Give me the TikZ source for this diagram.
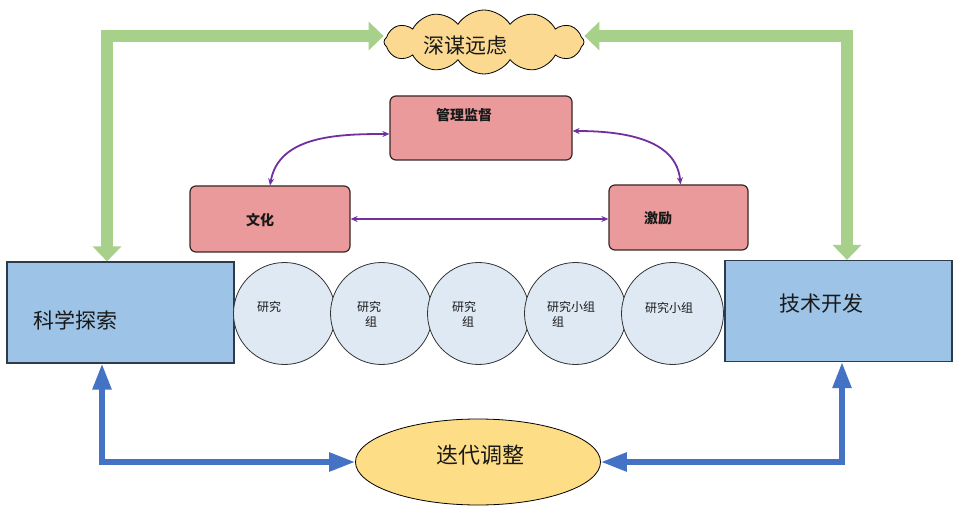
\documentclass[tikz,border=0pt]{standalone}
\usepackage{fontspec}
\setmainfont{Noto Sans CJK SC}
\usetikzlibrary{shapes.symbols,shapes.geometric,arrows.meta}
\definecolor{cloudfill}{HTML}{FBD990}
\definecolor{greenarrow}{HTML}{A7D08B}
\definecolor{pinkfill}{HTML}{EA9A9A}
\definecolor{pinkdraw}{HTML}{3A2626}
\definecolor{purplearrow}{HTML}{7030A0}
\definecolor{bluefill}{HTML}{9DC3E6}
\definecolor{bluedraw}{HTML}{2E3B4A}
\definecolor{circfill}{HTML}{DEE9F4}
\definecolor{ellfill}{HTML}{FDDE86}
\definecolor{bluearrow}{HTML}{4472C4}
\tikzset{
  cloudbox/.style={cloud, cloud puffs=12, cloud puff arc=115, aspect=3.1, draw=black, line width=0.8pt, fill=cloudfill, minimum width=200pt, minimum height=64pt, inner sep=0pt},
  pinkbox/.style={draw=pinkdraw, line width=1.2pt, fill=pinkfill, rounded corners=6pt},
  bluebox/.style={draw=bluedraw, line width=1.2pt, fill=bluefill},
  circbox/.style={circle, draw=black!80, line width=0.8pt, fill=circfill, minimum size=102pt, inner sep=0pt},
  ellbox/.style={ellipse, draw=black, line width=0.8pt, fill=ellfill, minimum width=245pt, minimum height=86pt, inner sep=0pt},
  bigtext/.style={font=\fontsize{21}{24}\selectfont, text=black!90, inner sep=0pt},
  midtext/.style={font=\fontsize{14}{16}\selectfont\bfseries, text=black!90, inner sep=0pt},
  smalltext/.style={font=\fontsize{12}{14}\selectfont, text=black!90, inner sep=0pt, anchor=west},
  greenarr/.style={draw=greenarrow, line width=12pt, {Triangle[width=28pt,length=15pt]}-{Triangle[width=28pt,length=15pt]}},
  bluearr/.style={draw=bluearrow, line width=5.5pt, {Triangle[width=18pt,length=26pt]}-{Triangle[width=18pt,length=26pt]}},
  purparr/.style={draw=purplearrow, line width=1.8pt, {Stealth[length=7pt,width=6pt]}-{Stealth[length=7pt,width=6pt]}},
}
\begin{document}
\begin{tikzpicture}[x=1pt,y=-1pt]
\useasboundingbox[fill=white] (0,0) rectangle (960,510);
% top cloud
\node[cloudbox] (cloud) at (484,42) {};
\node[bigtext] (cloudtxt) at (465,46) {深谋远虑};
% pink boxes
\node[pinkbox, minimum width=182pt, minimum height=64pt] (mgmt) at (481,128) {};
\node[midtext] (mgmttxt) at (464,115) {管理监督};
\node[pinkbox, minimum width=160pt, minimum height=66pt] (culture) at (270,219) {};
\node[midtext] (culturetxt) at (260,220) {文化};
\node[pinkbox, minimum width=139pt, minimum height=65pt] (incent) at (678.5,217.5) {};
\node[midtext] (incenttxt) at (658,218) {激励};
% blue boxes
\node[bluebox, minimum width=227pt, minimum height=101pt] (sci) at (120.5,312.5) {};
\node[bigtext] (scitxt) at (75.5,320) {科学探索};
\node[bluebox, minimum width=227pt, minimum height=101pt] (tech) at (838.5,311) {};
\node[bigtext] (techtxt) at (821.5,304) {技术开发};
% circles
\node[circbox] (c1) at (284.5,313.5) {};
\node[circbox] (c2) at (381.5,313.5) {};
\node[circbox] (c3) at (478.5,313.5) {};
\node[circbox] (c4) at (575.5,313.5) {};
\node[circbox] (c5) at (672.5,313.5) {};
\node[smalltext] (t1) at (257,307) {研究};
\node[smalltext] (t2a) at (357,307) {研究};
\node[smalltext] (t2b) at (365,322) {组};
\node[smalltext] (t3a) at (452,307) {研究};
\node[smalltext] (t3b) at (462,322) {组};
\node[smalltext] (t4a) at (547,307) {研究小组};
\node[smalltext] (t4b) at (552,322) {组};
\node[smalltext] (t5) at (645,308) {研究小组};
% bottom ellipse
\node[ellbox] (iter) at (478,462) {};
\node[bigtext, font=\fontsize{22}{24}\selectfont] (itertxt) at (480,455) {迭代调整};
% green arrows
\draw[greenarr] ([xshift=-13.5pt]sci.north) |- ([yshift=6pt]cloud.west);
\draw[greenarr] ([xshift=8.5pt]tech.north) |- ([yshift=6pt]cloud.east);
% blue arrows
\draw[bluearr] ([xshift=-18.5pt]sci.south) |- (iter.west);
\draw[bluearr] ([xshift=3.5pt]tech.south) |- (iter.east);
% purple arrows
\draw[purparr] (culture.north) to[out=80,in=180] ([yshift=-6pt]mgmt.west);
\draw[purparr] ([yshift=-3pt]mgmt.east) to[out=0,in=95] ([xshift=2pt]incent.north);
\draw[purparr] (culture.east) -- (culture.east -| incent.west);
\end{tikzpicture}
\end{document}
